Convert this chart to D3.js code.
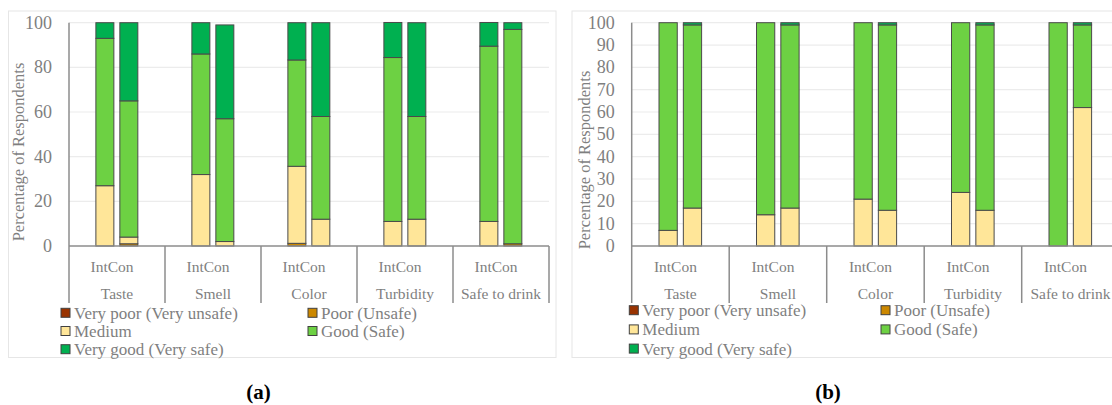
<!DOCTYPE html>
<html>
<head>
<meta charset="utf-8">
<script src="https://cdn.jsdelivr.net/npm/d3@7"></script>
<style>
  body { margin: 0; background: #fff; }
  svg { display: block; }
</style>
</head>
<body>
<svg id="chart" width="1112" height="405"></svg>
<script>
// categories and sub groups
const categories = ["Taste", "Smell", "Color", "Turbidity", "Safe to drink"];
const groups = ["Int", "Con"];
const levels = ["Very poor (Very unsafe)", "Poor (Unsafe)", "Medium", "Good (Safe)", "Very good (Very safe)"];
const level_colors = ["#993300", "#CC8800", "#FFE699", "#6DD143", "#00B050"];

// panel (a) - order: Taste Int, Taste Con, Smell Int, Smell Con, ...
const veryPoorA = [0, 0, 0, 0, 0, 0, 0, 0, 0, 0];
const poorA     = [0, 1, 0, 0, 1.2, 0, 0, 0, 0, 1];
const mediumA   = [27, 3, 32, 2, 34.5, 12, 11, 12, 11, 0];
const goodA     = [66, 61, 54, 55, 47.6, 46, 73.4, 46, 78.5, 96];
const veryGoodA = [7, 35, 14, 42, 16.7, 42, 15.7, 42, 10.6, 3];
const ticksA = [0, 20, 40, 60, 80, 100];

// panel (b)
const veryPoorB = [0, 0, 0, 0, 0, 0, 0, 0, 0, 0];
const poorB     = [0, 0, 0, 0, 0, 0, 0, 0, 0, 0];
const mediumB   = [7, 17, 14, 17, 21, 16, 24, 16, 0, 62];
const goodB     = [93, 82, 86, 82, 79, 83, 76, 83, 100, 37];
const veryGoodB = [0, 1, 0, 1, 0, 1, 0, 1, 0, 1];
const ticksB = [0, 10, 20, 30, 40, 50, 60, 70, 80, 90, 100];

const svg = d3.select("#chart");
const textGray = "#7f7f7f";
const serif = "'Liberation Serif', 'Times New Roman', serif";

function drawPanel(cfg, series, ticks) {
    const g = svg.append("g");

    // outer frame
    g.append("rect")
        .attr("x", cfg.frame[0]).attr("y", cfg.frame[1])
        .attr("width", cfg.frame[2]).attr("height", cfg.frame[3])
        .attr("fill", "none").attr("stroke", "#e6e6e6");

    const plotRight = cfg.left + cfg.catW * categories.length;
    const xCat = d3.scaleBand().domain(categories).range([cfg.left, plotRight]);
    const cw = xCat.bandwidth();
    const xSub = d3.scaleBand().domain(groups).range([cw * 0.28, cw * 0.717]).paddingInner(0.25);
    const y = d3.scaleLinear().domain([0, 100]).range([cfg.bottom, cfg.top]);

    // gridlines
    g.append("g").selectAll("line").data(ticks.filter(d => d > 0)).join("line")
        .attr("x1", cfg.left).attr("x2", plotRight)
        .attr("y1", d => y(d)).attr("y2", d => y(d))
        .attr("stroke", "#ececec").attr("stroke-width", 1.2);

    // tick labels
    g.append("g").selectAll("text").data(ticks).join("text")
        .attr("x", cfg.left - 17).attr("y", d => y(d) + 6)
        .attr("text-anchor", "end")
        .style("font-family", serif)
        .attr("font-size", 18)
        .attr("fill", textGray)
        .text(d => d);

    // rows for stacking
    const rows = [];
    categories.forEach((c, ci) => {
        groups.forEach((s, si) => {
            const row = {cat: c, sub: s};
            levels.forEach((l, li) => { row[l] = series[li][ci * 2 + si]; });
            rows.push(row);
        });
    });
    const stacked = d3.stack().keys(levels)(rows);

    g.append("g").selectAll("g").data(stacked).join("g")
        .attr("fill", (d, i) => level_colors[i])
        .selectAll("rect").data(d => d.filter(p => p[1] - p[0] > 0)).join("rect")
        .attr("x", d => xCat(d.data.cat) + xSub(d.data.sub))
        .attr("width", xSub.bandwidth())
        .attr("y", d => y(d[1]))
        .attr("height", d => y(d[0]) - y(d[1]))
        .attr("stroke", "#4a4a4a")
        .attr("stroke-width", 1);

    // axes
    g.append("line")
        .attr("x1", cfg.left).attr("x2", cfg.left)
        .attr("y1", cfg.top).attr("y2", cfg.bottom)
        .attr("stroke", "#8c8c8c").attr("stroke-width", 1.5);
    g.append("line")
        .attr("x1", cfg.left).attr("x2", plotRight)
        .attr("y1", cfg.bottom).attr("y2", cfg.bottom)
        .attr("stroke", "#8c8c8c").attr("stroke-width", 1.5);
    g.append("g").selectAll("line").data(d3.range(categories.length + 1)).join("line")
        .attr("x1", i => cfg.left + i * cw).attr("x2", i => cfg.left + i * cw)
        .attr("y1", cfg.bottom).attr("y2", cfg.divBottom)
        .attr("stroke", "#8c8c8c").attr("stroke-width", 1.5);

    // sub group labels
    g.append("g").selectAll("text").data(categories).join("text")
        .attr("x", d => xCat(d) + cw / 2 - 5)
        .attr("y", cfg.bottom + 26)
        .attr("text-anchor", "middle")
        .style("font-family", serif)
        .attr("font-size", 15.5)
        .attr("fill", textGray)
        .text(groups.join(""));

    // category labels
    g.append("g").selectAll("text").data(categories).join("text")
        .attr("x", d => xCat(d) + cw / 2)
        .attr("y", cfg.bottom + 53)
        .attr("text-anchor", "middle")
        .style("font-family", serif)
        .attr("font-size", 15.5)
        .attr("fill", textGray)
        .text(d => d);

    // y axis title
    g.append("text")
        .attr("transform", "translate(" + cfg.titleX + "," + cfg.titleY + ") rotate(-90)")
        .attr("text-anchor", "middle")
        .style("font-family", serif)
        .attr("font-size", 16.5)
        .attr("fill", textGray)
        .text("Percentage of Respondents");

    // legend
    const leg = g.append("g").selectAll("g").data(levels).join("g")
        .attr("transform", (d, i) => "translate(" + cfg.legX[i % 2] + "," + (cfg.legY + Math.floor(i / 2) * cfg.legStep) + ")");
    leg.append("rect")
        .attr("width", 9).attr("height", 9)
        .attr("fill", (d, i) => level_colors[i])
        .attr("stroke", "#404040").attr("stroke-width", 1);
    leg.append("text")
        .attr("x", 13).attr("y", 10.5)
        .style("font-family", serif)
        .attr("font-size", 17)
        .attr("fill", textGray)
        .text(d => d);

    // caption
    g.append("text")
        .attr("x", cfg.capX).attr("y", 399)
        .attr("text-anchor", "middle")
        .style("font-family", serif)
        .attr("font-size", 21)
        .attr("font-weight", "bold")
        .attr("fill", "#000")
        .text(cfg.caption);
}

drawPanel({
    frame: [8.5, 11, 547.5, 346.5],
    left: 69, catW: 96, top: 22.7, bottom: 246, divBottom: 303,
    titleX: 24, titleY: 152,
    legX: [61, 308], legY: 308.3, legStep: 18.2,
    capX: 258.5, caption: "(a)"
}, [veryPoorA, poorA, mediumA, goodA, veryGoodA], ticksA);

drawPanel({
    frame: [572, 11, 560, 346.5],
    left: 631.7, catW: 97.5, top: 22.7, bottom: 246, divBottom: 303,
    titleX: 590, titleY: 160,
    legX: [629.3, 881], legY: 305.7, legStep: 19.2,
    capX: 828, caption: "(b)"
}, [veryPoorB, poorB, mediumB, goodB, veryGoodB], ticksB);
</script>
</body>
</html>
